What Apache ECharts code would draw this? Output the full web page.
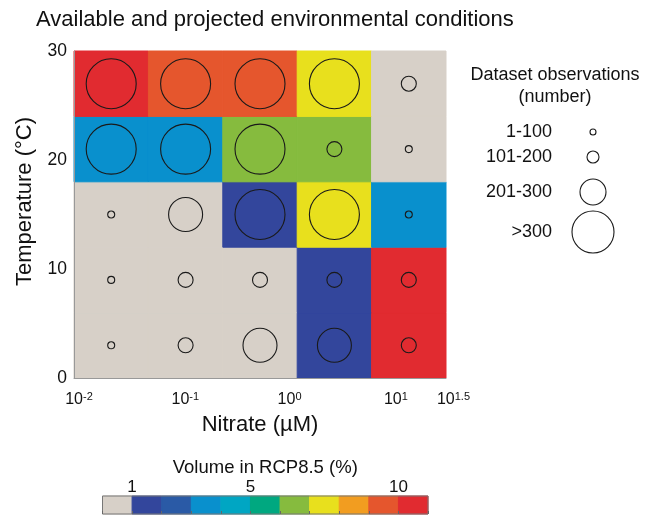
<!DOCTYPE html>
<html>
<head>
<meta charset="utf-8">
<script src="https://cdn.jsdelivr.net/npm/echarts@6/dist/echarts.min.js"></script>
<style>
  html, body { margin: 0; padding: 0; background: #ffffff; }
  #chart { width: 652px; height: 518px; }
</style>
</head>
<body>
<div id="chart"></div>
<script>
// Nitrate bins, as log10 of concentration in µM
const nitrateEdges = [-2, -1.3, -0.6, 0.1, 0.8, 1.5];
// Temperature bins, °C
const temperatureEdges = [0, 6, 12, 18, 24, 30];

// Projected volume (%) per cell, rows from the coldest bin upwards
const volumeRows = [
  [0.5, 0.5, 0.5, 1.5, 10.5],
  [0.5, 0.5, 0.5, 1.5, 10.5],
  [0.5, 0.5, 1.5, 7.5, 3.5],
  [3.5, 3.5, 6.5, 6.5, 0.5],
  [10.5, 9.5, 9.5, 7.5, 0.5]
];

// Observation count class per cell (index into obsClassLabels)
const obsClassRows = [
  [0, 1, 2, 2, 1],
  [0, 1, 1, 1, 1],
  [0, 2, 3, 3, 0],
  [3, 3, 3, 1, 0],
  [3, 3, 3, 3, 1]
];
const obsClassLabels = ['1-100', '101-200', '201-300', '>300'];

// Axis ticks
const nitrateTicks = [-2, -1, 0, 1, 1.5];
const temperatureTicks = [0, 10, 20, 30];

// Colour scale for volume (%)
const volumeEdges = [0, 1, 2, 3, 4, 5, 6, 7, 8, 9, 10, 11];
const volumeColors = ['#d7d0c8', '#33469c', '#2a5aa6', '#0990cd', '#00a6c3', '#00a880',
                      '#86bb3e', '#e8e01d', '#f29d20', '#e5562d', '#e12b30'];
const volumeTicks = [1, 5, 10];

const FONT = 'Liberation Sans, Arial, Helvetica, sans-serif';
const circleSizes = [7, 15, 34, 50];
const legendSizes = [6, 12, 26, 42];

// Cells and circles
const cellData = [];
const circleData = [];
for (let j = 0; j < temperatureEdges.length - 1; j++) {
  for (let i = 0; i < nitrateEdges.length - 1; i++) {
    cellData.push([i, j, volumeRows[j][i]]);
    circleData.push([
      (nitrateEdges[i] + nitrateEdges[i + 1]) / 2,
      (temperatureEdges[j] + temperatureEdges[j + 1]) / 2,
      obsClassRows[j][i]
    ]);
  }
}

const barData = [];
for (let k = 0; k < volumeColors.length; k++) {
  barData.push([volumeEdges[k], volumeEdges[k + 1], volumeEdges[k]]);
}

const pieces = volumeColors.map((c, k) => ({
  gte: volumeEdges[k], lt: volumeEdges[k + 1], color: c
}));

// "10" stays centred on the tick; the exponent hangs to its right,
// balanced by an empty spacer of the same width on the left
const SUP_FONT = '11px ' + FONT;
const measureCtx = document.createElement('canvas').getContext('2d');
measureCtx.font = SUP_FONT;
const expRich = {
  b: { fontSize: 16, color: '#111' },
  s: { fontSize: 11, verticalAlign: 'top', color: '#111', padding: [0, 0, 7, 0] }
};
nitrateTicks.forEach((v, k) => {
  expRich['p' + k] = { width: Math.round(measureCtx.measureText(String(v)).width) };
});
function expLabel(v) {
  const k = nitrateTicks.indexOf(v);
  return '{p' + k + '|}{b|10}{s|' + v + '}';
}

// Legend for observation counts
const legendRows = [132, 157, 192, 232];
const legendGraphics = [
  { type: 'text', x: 555, y: 75,
    style: { text: 'Dataset observations', font: '18px ' + FONT, fill: '#111', align: 'center', verticalAlign: 'middle' } },
  { type: 'text', x: 555, y: 97,
    style: { text: '(number)', font: '18px ' + FONT, fill: '#111', align: 'center', verticalAlign: 'middle' } }
];
obsClassLabels.forEach((lab, k) => {
  legendGraphics.push({
    type: 'text', x: 552, y: legendRows[k],
    style: { text: lab, font: '18px ' + FONT, fill: '#111', align: 'right', verticalAlign: 'middle' }
  });
  legendGraphics.push({
    type: 'circle', x: 593, y: legendRows[k],
    shape: { cx: 0, cy: 0, r: legendSizes[k] / 2 },
    style: { fill: 'none', stroke: '#1a1a1a', lineWidth: 1.1 }
  });
});

function cellRect(api, x0, x1, y0, y1) {
  const p0 = api.coord([x0, y1]);
  const p1 = api.coord([x1, y0]);
  const c = api.visual('color');
  return {
    type: 'rect',
    shape: { x: p0[0], y: p0[1], width: p1[0] - p0[0], height: p1[1] - p0[1] },
    style: { fill: c, stroke: c, lineWidth: 1 }
  };
}

const chart = echarts.init(document.getElementById('chart'), null, { renderer: 'canvas' });

chart.setOption({
  animation: false,
  backgroundColor: '#ffffff',
  textStyle: { fontFamily: FONT },
  title: {
    text: 'Available and projected environmental conditions',
    left: 31, top: 4,
    textStyle: { fontSize: 22, fontWeight: 'normal', color: '#111', fontFamily: FONT }
  },
  visualMap: {
    type: 'piecewise', show: false, dimension: 2,
    seriesIndex: [0, 2], pieces: pieces
  },
  graphic: legendGraphics,
  grid: [
    { left: 74, top: 51, width: 372, height: 327 },
    { left: 102.5, top: 496, width: 325.5, height: 18, show: true,
      backgroundColor: 'transparent', borderColor: '#777', borderWidth: 1, z: 5 }
  ],
  xAxis: [
    {
      gridIndex: 0, type: 'value', min: -2, max: 1.5, z: 5,
      axisLine: { show: true, onZero: false, lineStyle: { color: '#999', width: 1 } },
      axisTick: { show: false },
      splitLine: { show: false },
      axisLabel: {
        customValues: nitrateTicks, margin: 13,
        formatter: expLabel, color: '#111', fontSize: 16,
        rich: expRich
      },
      name: 'Nitrate (µM)', nameLocation: 'middle', nameGap: 36,
      nameTextStyle: { fontSize: 22, color: '#111' }
    },
    {
      gridIndex: 1, type: 'value', min: 0, max: 11, position: 'top',
      axisLine: { show: false }, axisTick: { show: false }, splitLine: { show: false },
      axisLabel: { customValues: volumeTicks, margin: 0, fontSize: 17, color: '#111' },
      name: 'Volume in RCP8.5 (%)', nameLocation: 'middle', nameGap: 19,
      nameTextStyle: { fontSize: 18.5, color: '#111' }
    },
    {
      gridIndex: 1, type: 'value', min: 0, max: 11, interval: 1, position: 'bottom', z: 6,
      axisLine: { show: false },
      axisTick: { show: true, inside: true, length: 3, lineStyle: { color: '#666' } },
      axisLabel: { show: false }, splitLine: { show: false }
    }
  ],
  yAxis: [
    {
      gridIndex: 0, type: 'value', min: 0, max: 30, interval: 10, z: 5,
      axisLine: { show: true, onZero: false, lineStyle: { color: '#999', width: 1 } },
      axisTick: { show: false },
      splitLine: { show: false },
      axisLabel: { margin: 7, fontSize: 17.5, color: '#111' },
      name: 'Temperature (°C)', nameLocation: 'middle', nameGap: 38,
      nameTextStyle: { fontSize: 22, color: '#111', padding: [0, 0, 0, 26] }
    },
    { gridIndex: 1, type: 'value', min: 0, max: 1, show: false }
  ],
  series: [
    {
      type: 'custom', xAxisIndex: 0, yAxisIndex: 0,
      data: cellData,
      encode: { x: 0, y: 1 },
      renderItem: function (params, api) {
        const i = api.value(0), j = api.value(1);
        return cellRect(api, nitrateEdges[i], nitrateEdges[i + 1],
                        temperatureEdges[j], temperatureEdges[j + 1]);
      }
    },
    {
      type: 'scatter', xAxisIndex: 0, yAxisIndex: 0,
      data: circleData,
      symbol: 'circle',
      symbolSize: function (val) { return circleSizes[val[2]]; },
      itemStyle: { color: 'rgba(0,0,0,0)', borderColor: '#1a1a1a', borderWidth: 1.1, opacity: 1 },
      emphasis: { disabled: true },
      z: 4
    },
    {
      type: 'custom', xAxisIndex: 1, yAxisIndex: 1,
      data: barData,
      encode: { x: [0, 1] },
      renderItem: function (params, api) {
        return cellRect(api, api.value(0), api.value(1), 0, 1);
      }
    }
  ]
});
</script>
</body>
</html>
